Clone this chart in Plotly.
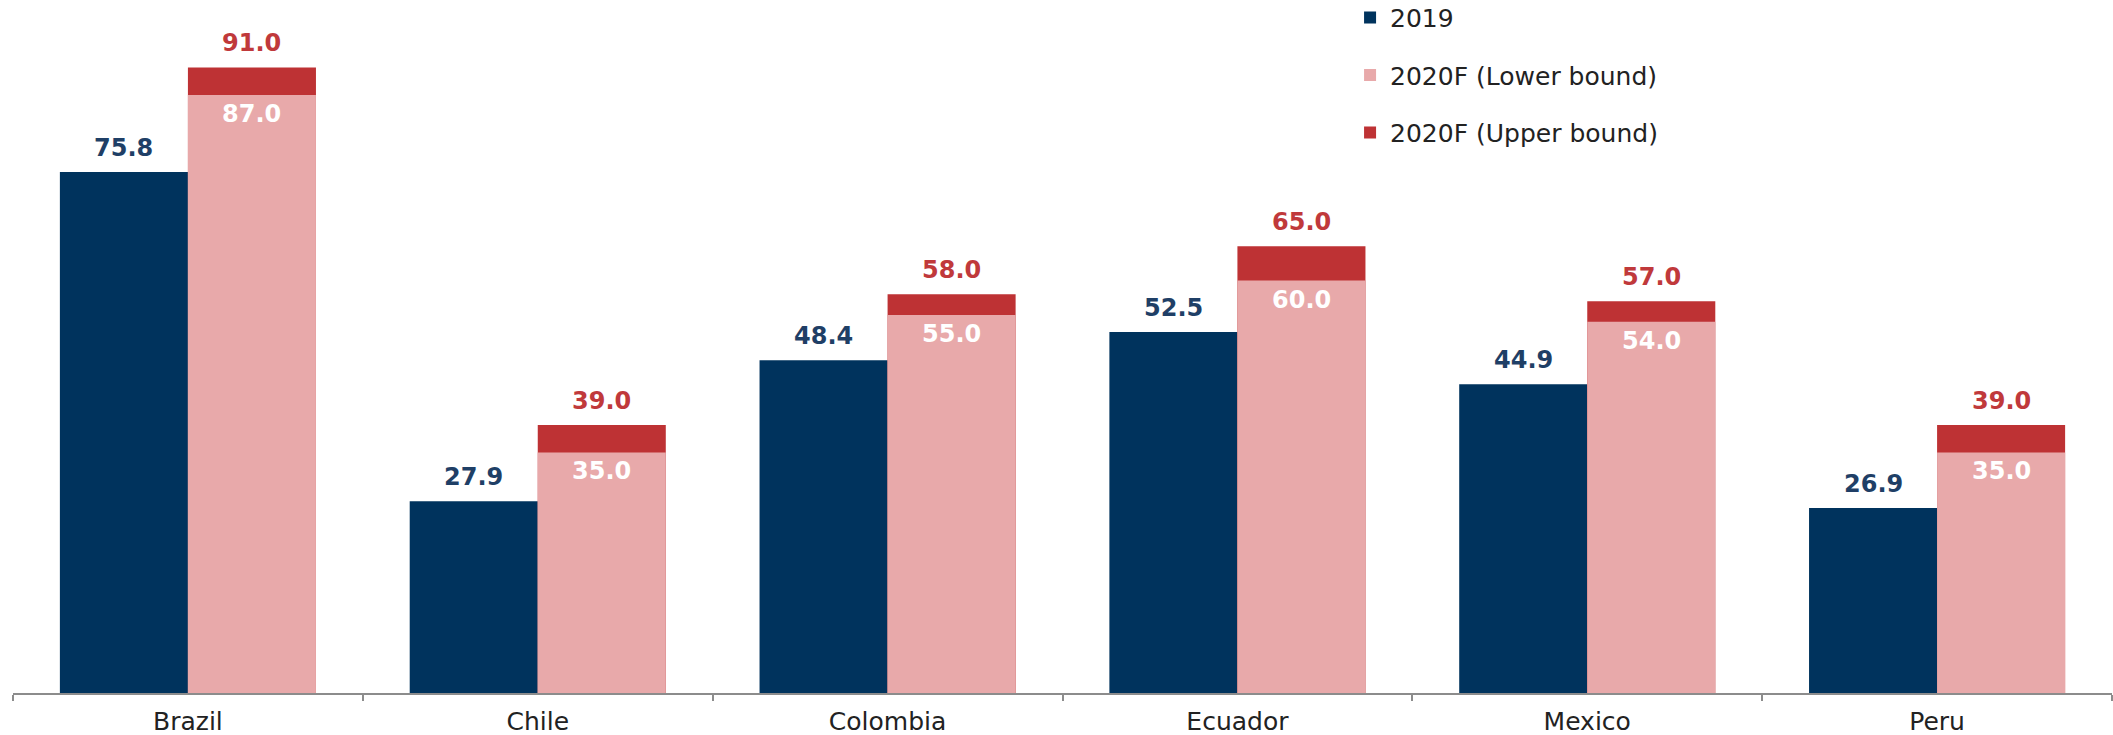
import plotly.graph_objects as go

# Countries and values
countries = ["Brazil", "Chile", "Colombia", "Ecuador", "Mexico", "Peru"]
values_2019 = [75.8, 27.9, 48.4, 52.5, 44.9, 26.9]
lower_2020f = [87.0, 35.0, 55.0, 60.0, 54.0, 35.0]
upper_2020f = [91.0, 39.0, 58.0, 65.0, 57.0, 39.0]

NAVY = "#00335D"
PINK = "#E8A9AA"
RED = "#BE3234"
NAVY_TXT = "#1F3F66"
RED_TXT = "#C0393B"
FONT = "DejaVu Sans"

fig = go.Figure()

fig.add_trace(go.Bar(
    name="2019", x=countries, y=values_2019, offsetgroup="a",
    marker=dict(color=NAVY, line=dict(width=0)),
    legendgroup="g1", legendrank=1, hoverinfo="skip",
))
# Upper bound drawn full height first; the lower bound sits on top of it
fig.add_trace(go.Bar(
    name="2020F (Upper bound)", x=countries, y=upper_2020f, offsetgroup="b",
    marker=dict(color=RED, line=dict(width=0)),
    legendgroup="g3", legendrank=3, hoverinfo="skip",
))
fig.add_trace(go.Bar(
    name="2020F (Lower bound)", x=countries, y=lower_2020f, offsetgroup="b",
    marker=dict(color=PINK, line=dict(width=0)),
    legendgroup="g2", legendrank=2, hoverinfo="skip",
))

LABEL_SIZE = 24
annotations = []
for c, v19, lo, up in zip(countries, values_2019, lower_2020f, upper_2020f):
    annotations.append(dict(
        x=c, y=v19, xshift=-64, yshift=24, text=f"{v19:.1f}", showarrow=False,
        xanchor="center", yanchor="middle",
        font=dict(family=FONT, size=LABEL_SIZE, color=NAVY_TXT, weight="bold"),
    ))
    annotations.append(dict(
        x=c, y=lo, xshift=64, yshift=-19, text=f"{lo:.1f}", showarrow=False,
        xanchor="center", yanchor="middle",
        font=dict(family=FONT, size=LABEL_SIZE, color="white", weight="bold"),
    ))
    annotations.append(dict(
        x=c, y=up, xshift=64, yshift=24, text=f"{up:.1f}", showarrow=False,
        xanchor="center", yanchor="middle",
        font=dict(family=FONT, size=LABEL_SIZE, color=RED_TXT, weight="bold"),
    ))

fig.update_layout(
    width=2113, height=735,
    margin=dict(l=13, r=1, t=0, b=42, autoexpand=False),
    barmode="group", bargap=0.268, bargroupgap=0,
    plot_bgcolor="white", paper_bgcolor="white",
    font=dict(family=FONT, size=24, color="#222222"),
    showlegend=True,
    legend=dict(
        x=0.637, y=1.0075, xanchor="left", yanchor="top",
        traceorder="grouped", tracegroupgap=22,
        font=dict(family=FONT, size=25, color="#222222"),
        bgcolor="rgba(0,0,0,0)",
    ),
    annotations=annotations,
)
fig.update_xaxes(
    showline=True, linecolor="#8C8C8C", linewidth=1.5,
    ticks="outside", tickson="boundaries", ticklen=6, tickcolor="#8C8C8C", tickwidth=1.5,
    ticklabelstandoff=5, automargin=False,
    tickfont=dict(family=FONT, size=25, color="#222222"),
    showgrid=False, zeroline=False,
)
fig.update_yaxes(
    range=[0, 100.8], visible=False, showgrid=False, zeroline=False, automargin=False,
)

fig.write_html("out.html")
